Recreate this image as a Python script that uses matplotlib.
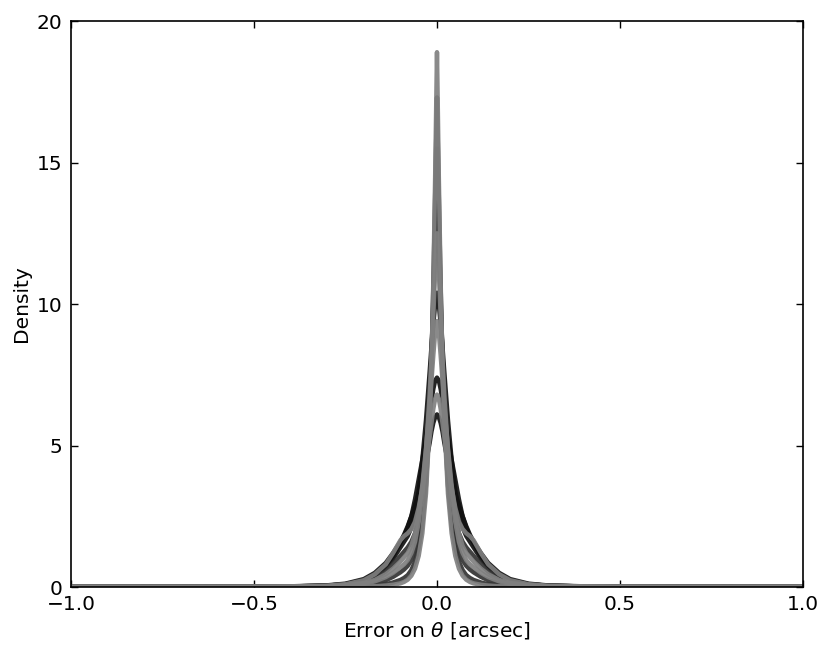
import numpy as np
import matplotlib
matplotlib.use("Agg")
import matplotlib.pyplot as plt

###############################################
# Data (half profiles, mirrored about 0)
###############################################

x_half = [0, 0.005, 0.01, 0.015, 0.02, 0.03, 0.04, 0.05, 0.06, 0.07, 0.08, 0.09,
          0.10, 0.12, 0.14, 0.17, 0.20, 0.25, 0.30, 0.40, 0.50, 0.70, 1.00]

dens_j = [6.1, 6.0, 5.8, 5.5, 5.1, 4.4, 3.8, 3.3, 2.9, 2.5, 2.15, 1.85,
          1.6, 1.2, 0.85, 0.5, 0.28, 0.12, 0.06, 0.025, 0.012, 0.005, 0.002]
dens_i = [6.8, 6.65, 6.3, 5.8, 5.3, 4.3, 3.5, 2.8, 2.3, 2.05, 1.9, 1.8,
          1.65, 1.2, 0.8, 0.45, 0.24, 0.1, 0.05, 0.02, 0.01, 0.004, 0.001]
dens_h = [7.4, 7.3, 7.0, 6.6, 6.2, 5.3, 4.5, 3.8, 3.1, 2.5, 2.1, 1.8,
          1.55, 1.1, 0.75, 0.42, 0.23, 0.1, 0.05, 0.02, 0.01, 0.004, 0.002]
dens_g = [9.4, 9.0, 8.2, 7.3, 6.4, 4.9, 3.6, 2.6, 1.9, 1.45, 1.2, 1.05,
          0.9, 0.65, 0.45, 0.25, 0.14, 0.06, 0.03, 0.012, 0.006, 0.002, 0.001]
dens_f = [10.4, 10.0, 9.3, 8.5, 7.6, 5.9, 4.5, 3.4, 2.6, 2.1, 1.8, 1.6,
          1.4, 1.0, 0.7, 0.4, 0.22, 0.1, 0.05, 0.02, 0.01, 0.004, 0.002]
dens_e = [12.5, 11.2, 9.6, 8.1, 6.8, 4.8, 3.3, 2.3, 1.6, 1.2, 0.95, 0.8,
          0.7, 0.5, 0.35, 0.2, 0.11, 0.05, 0.025, 0.01, 0.005, 0.002, 0.001]
dens_d = [13.8, 12.0, 10.0, 8.3, 6.9, 4.8, 3.4, 2.5, 1.9, 1.6, 1.4, 1.25,
          1.1, 0.8, 0.55, 0.3, 0.16, 0.07, 0.035, 0.015, 0.008, 0.003, 0.001]
dens_c = [15.5, 12.8, 10.2, 8.1, 6.4, 4.2, 2.8, 1.9, 1.3, 0.95, 0.75, 0.62,
          0.52, 0.36, 0.24, 0.13, 0.07, 0.03, 0.015, 0.006, 0.003, 0.001, 0.0]
dens_b = [17.3, 13.8, 10.6, 8.0, 6.0, 3.6, 2.2, 1.4, 0.9, 0.6, 0.42, 0.32,
          0.25, 0.16, 0.1, 0.06, 0.035, 0.015, 0.008, 0.003, 0.002, 0.001, 0.0]
dens_a = [18.9, 14.5, 10.8, 7.9, 5.8, 3.3, 1.9, 1.1, 0.65, 0.4, 0.26, 0.18,
          0.13, 0.08, 0.05, 0.03, 0.018, 0.008, 0.004, 0.002, 0.001, 0.0, 0.0]

# dark curves first, grey ones on top (as in the reference)
curves = [dens_j, dens_h, dens_f, dens_d, dens_c, dens_b,
          dens_i, dens_g, dens_e, dens_a]
shades = ["black", "black", "black", "dark", "dark", "dark",
          "gray", "gray", "gray", "gray"]

###############################################
# Plot
###############################################

colors = {"black": "#111111", "dark": "#333333", "gray": "#808080"}

def mirror(xh, yh):
    xh = np.asarray(xh)
    yh = np.asarray(yh)
    x = np.concatenate([-xh[::-1], xh[1:]])
    y = np.concatenate([yh[::-1], yh[1:]])
    return x, y

plt.rcParams["font.family"] = "DejaVu Sans"
fig = plt.figure(figsize=(8.31, 6.54), dpi=100)
ax = fig.add_axes([0.0854, 0.1024, 0.8809, 0.8654])

for dens, shade in zip(curves, shades):
    x, y = mirror(x_half, dens)
    ax.plot(x, y, color=colors[shade], lw=3.2, alpha=0.92, solid_capstyle="round")

ax.set_xlim(-1, 1)
ax.set_ylim(0, 20)
ax.set_xticks([-1.0, -0.5, 0.0, 0.5, 1.0])
ax.set_yticks([0, 5, 10, 15, 20])
ax.tick_params(direction="in", top=True, right=True, length=5, width=1,
               labelsize=14.5, pad=6)
for s in ax.spines.values():
    s.set_linewidth(1.2)

ax.set_xlabel(r"Error on $\theta$ [arcsec]", fontsize=14.5)
ax.set_ylabel("Density", fontsize=14.5)

fig.savefig("out.png", dpi=100, facecolor="white")
